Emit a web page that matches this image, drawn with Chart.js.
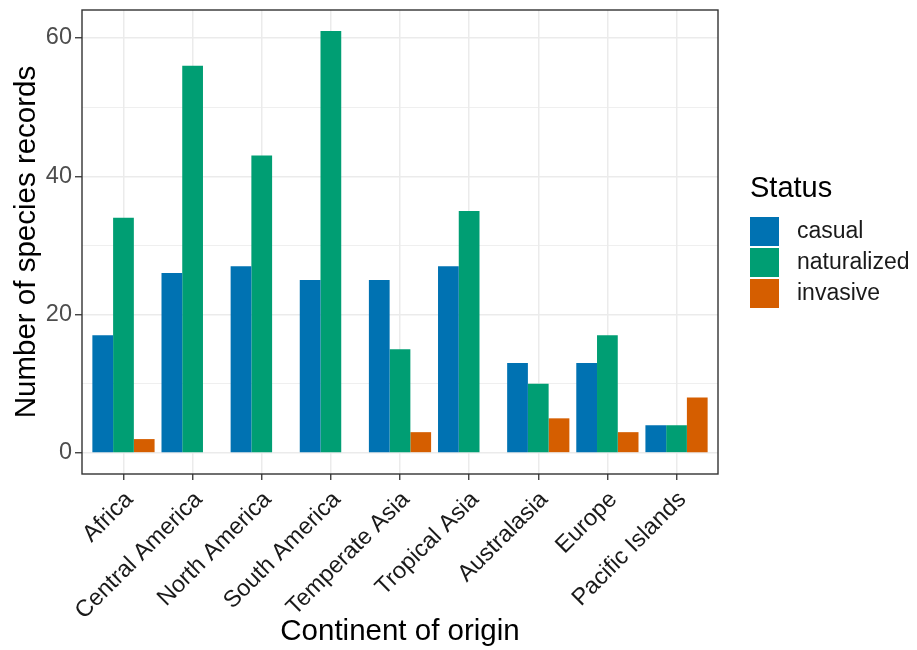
<!DOCTYPE html>
<html>
<head>
<meta charset="utf-8">
<script src="https://cdn.jsdelivr.net/npm/chart.js@4.4.0/dist/chart.umd.min.js"></script>
<style>
  html, body { margin: 0; padding: 0; background: #fff; }
</style>
</head>
<body>
<canvas id="myChart" width="917" height="650"></canvas>
<script>
// data
const continents = ['Africa', 'Central America', 'North America', 'South America',
    'Temperate Asia', 'Tropical Asia', 'Australasia', 'Europe', 'Pacific Islands'];
const casual = [17, 26, 27, 25, 25, 27, 13, 13, 4];
const naturalized = [34, 56, 43, 61, 15, 35, 10, 17, 4];
const invasive = [2, 0, 0, 0, 3, 0, 5, 3, 8];
const statusNames = ['casual', 'naturalized', 'invasive'];
const statusColors = ['#0072B2', '#009E73', '#D55E00'];
const yMajorTicks = [0, 20, 40, 60];
const yMinorTicks = [10, 30, 50];

const FONT = '"Liberation Sans", Arial, sans-serif';

function toPoints(values) {
    return values.map((v, i) => ({ x: i, y: v }));
}

const isMajor = v => yMajorTicks.includes(v);

// ggplot-like panel border drawn over everything
const panelBorder = {
    id: 'panelBorder',
    afterDraw(chart) {
        const { ctx, chartArea: a } = chart;
        ctx.save();
        ctx.strokeStyle = '#333333';
        ctx.lineWidth = 1.4;
        ctx.strokeRect(a.left, a.top, a.right - a.left, a.bottom - a.top);
        ctx.restore();
    }
};

// legend on the right, "Status" title and stacked keys
const statusLegend = {
    id: 'statusLegend',
    afterDraw(chart) {
        const ctx = chart.ctx;
        const x0 = chart.chartArea.right + 32;
        ctx.save();
        ctx.fillStyle = '#000';
        ctx.font = '29px ' + FONT;
        ctx.textBaseline = 'alphabetic';
        ctx.fillText('Status', x0, 197);
        chart.data.datasets.forEach((ds, i) => {
            const y = 217 + i * 31;
            ctx.fillStyle = ds.backgroundColor;
            ctx.fillRect(x0, y, 29, 29);
            ctx.fillStyle = '#1a1a1a';
            ctx.font = '23px ' + FONT;
            ctx.textBaseline = 'middle';
            ctx.fillText(ds.label, x0 + 47, y + 15);
        });
        ctx.restore();
    }
};

const ctx = document.getElementById('myChart').getContext('2d');

new Chart(ctx, {
    type: 'bar',
    data: {
        datasets: [
            { label: statusNames[0], data: toPoints(casual), backgroundColor: statusColors[0] },
            { label: statusNames[1], data: toPoints(naturalized), backgroundColor: statusColors[1] },
            { label: statusNames[2], data: toPoints(invasive), backgroundColor: statusColors[2] }
        ]
    },
    options: {
        responsive: false,
        animation: false,
        devicePixelRatio: 1,
        layout: { padding: { left: 0, top: 10, right: 199, bottom: 0 } },
        datasets: { bar: { categoryPercentage: 0.9, barPercentage: 1, borderWidth: 0 } },
        plugins: { legend: { display: false }, tooltip: { enabled: false } },
        scales: {
            x: {
                type: 'linear',
                min: -0.6,
                max: continents.length - 1 + 0.6,
                offset: false,
                afterBuildTicks: scale => {
                    scale.ticks = continents.map((c, i) => ({ value: i }));
                },
                afterFit: scale => {
                    scale.height = 176;
                    scale.paddingLeft = 0;
                    scale.paddingRight = 0;
                },
                border: { display: false },
                grid: {
                    offset: false,
                    color: '#ebebeb',
                    lineWidth: 1.5,
                    tickColor: '#333333',
                    tickLength: 6,
                    tickWidth: 1.3
                },
                ticks: {
                    autoSkip: false,
                    maxRotation: 45,
                    minRotation: 45,
                    padding: 6,
                    labelOffset: 6,
                    color: '#1a1a1a',
                    font: { family: FONT, size: 23.5 },
                    callback: v => continents[v]
                },
                title: {
                    display: true,
                    text: 'Continent of origin',
                    color: '#000',
                    padding: { top: 0, bottom: 0 },
                    font: { family: FONT, size: 29.5, lineHeight: 1.2 }
                }
            },
            y: {
                min: -3.05,
                max: 64.05,
                afterBuildTicks: scale => {
                    scale.ticks = yMajorTicks.concat(yMinorTicks)
                        .sort((a, b) => a - b)
                        .map(v => ({ value: v }));
                },
                afterFit: scale => {
                    scale.width = 82;
                    scale.paddingTop = 0;
                    scale.paddingBottom = 0;
                },
                border: { display: false },
                grid: {
                    color: '#ebebeb',
                    lineWidth: c => isMajor(c.tick.value) ? 1.5 : 0.8,
                    tickColor: c => isMajor(c.tick.value) ? '#333333' : 'rgba(0,0,0,0)',
                    tickLength: 7,
                    tickWidth: 1.3
                },
                ticks: {
                    padding: 3,
                    color: '#4d4d4d',
                    font: { family: FONT, size: 23.5 },
                    callback: v => isMajor(v) ? String(v) : ''
                },
                title: {
                    display: true,
                    text: 'Number of species records',
                    color: '#000',
                    padding: { top: 9, bottom: 0 },
                    font: { family: FONT, size: 29.5, lineHeight: 1.2 }
                }
            }
        }
    },
    plugins: [panelBorder, statusLegend]
});
</script>
</body>
</html>
